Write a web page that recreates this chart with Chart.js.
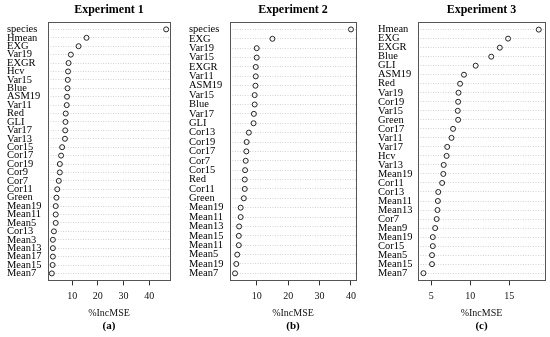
<!DOCTYPE html>
<html>
<head>
<meta charset="utf-8">
<script src="https://cdn.jsdelivr.net/npm/chart.js@4"></script>
<style>
  body { margin: 0; background: #fff; }
  .panel { position: absolute; top: 0; height: 337px; }
</style>
</head>
<body>
<div class="panel" style="left:0px;width:180px"><canvas id="chart1"></canvas></div>
<div class="panel" style="left:183px;width:180px"><canvas id="chart2"></canvas></div>
<div class="panel" style="left:366px;width:184px"><canvas id="chart3"></canvas></div>
<script>
// Experiment 1
const labels1 = ['species', 'Hmean', 'EXG', 'Var19', 'EXGR', 'Hcv', 'Var15', 'Blue', 'ASM19', 'Var11',
  'Red', 'GLI', 'Var17', 'Var13', 'Cor15', 'Cor17', 'Cor19', 'Cor9', 'Cor7', 'Cor11',
  'Green', 'Mean19', 'Mean11', 'Mean5', 'Cor13', 'Mean3', 'Mean13', 'Mean17', 'Mean15', 'Mean7'];
const values1 = [46.6, 15.6, 12.5, 9.5, 8.6, 8.4, 8.3, 8.2, 8.0, 7.9,
  7.5, 7.4, 7.3, 7.2, 6.1, 5.7, 5.2, 5.2, 4.8, 4.2,
  3.9, 3.6, 3.6, 3.6, 2.9, 2.5, 2.5, 2.5, 2.4, 2.1];
const ticks1 = [10, 20, 30, 40];

// Experiment 2
const labels2 = ['species', 'EXG', 'Var19', 'Var15', 'EXGR', 'Var11', 'ASM19', 'Var15', 'Blue', 'Var17',
  'GLI', 'Cor13', 'Cor19', 'Cor17', 'Cor7', 'Cor15', 'Red', 'Cor11', 'Green', 'Mean19',
  'Mean11', 'Mean13', 'Mean15', 'Mean11', 'Mean5', 'Mean19', 'Mean7'];
const values2 = [40.0, 15.0, 10.0, 10.0, 9.7, 9.7, 9.6, 9.35, 9.35, 9.1,
  9.0, 7.5, 6.8, 6.7, 6.5, 6.3, 6.2, 6.2, 5.9, 4.9,
  4.9, 4.4, 4.3, 4.3, 3.8, 3.5, 3.1];
const ticks2 = [10, 20, 30, 40];

// Experiment 3
const labels3 = ['Hmean', 'EXG', 'EXGR', 'Blue', 'GLI', 'ASM19', 'Red', 'Var19', 'Cor19', 'Var15',
  'Green', 'Cor17', 'Var11', 'Var17', 'Hcv', 'Var13', 'Mean19', 'Cor11', 'Cor13', 'Mean11',
  'Mean13', 'Cor7', 'Mean9', 'Mean19', 'Cor15', 'Mean5', 'Mean15', 'Mean7'];
const values3 = [18.8, 14.86, 13.8, 12.7, 10.7, 9.2, 8.7, 8.5, 8.45, 8.4,
  8.45, 7.8, 7.6, 7.05, 6.97, 6.6, 6.55, 6.4, 5.9, 5.85,
  5.8, 5.7, 5.5, 5.2, 5.2, 5.1, 5.1, 4.0];
const ticks3 = [5, 10, 15];

const serif = 'Liberation Serif';

// box round the plot area, like R's box()
const boxPlugin = {
  id: 'box',
  afterDraw(chart) {
    const a = chart.chartArea;
    const c = chart.ctx;
    c.save();
    c.strokeStyle = '#555';
    c.lineWidth = 1;
    c.strokeRect(Math.round(a.left) + 0.5, Math.round(a.top) + 0.5,
      Math.round(a.right - a.left), Math.round(a.bottom - a.top));
    c.restore();
  }
};

function makePanel(id, title, tag, labels, values, ticks, xmin, xmax, pad, padLeft, axisWidth, padRight) {
  const points = values.map((v, i) => ({ x: v, y: i }));
  new Chart(document.getElementById(id), {
    type: 'scatter',
    data: {
      datasets: [{
        data: points,
        pointStyle: 'circle',
        pointRadius: 2.5,
        pointBorderWidth: 1,
        pointBorderColor: '#222',
        pointBackgroundColor: 'rgba(0,0,0,0)'
      }]
    },
    options: {
      responsive: true,
      maintainAspectRatio: false,
      animation: false,
      layout: { padding: { left: padLeft, right: padRight, top: 0, bottom: 0 } },
      plugins: {
        legend: { display: false },
        tooltip: { enabled: false },
        title: {
          display: true, text: title, fullSize: false, color: '#000',
          font: { family: serif, size: 12, weight: 'bold' },
          padding: { top: 3, bottom: 5 }
        },
        subtitle: {
          display: true, text: tag, position: 'bottom', fullSize: false, color: '#000',
          font: { family: serif, size: 11, weight: 'bold' },
          padding: { top: 0, bottom: 4.4 }
        }
      },
      scales: {
        x: {
          type: 'linear', min: xmin, max: xmax,
          afterBuildTicks: s => { s.ticks = ticks.map(t => ({ value: t })); },
          grid: { drawOnChartArea: false, drawTicks: true, tickLength: 5, color: '#333' },
          border: { display: false },
          ticks: { color: '#111', padding: 5, autoSkip: false, font: { family: serif, size: 10 } },
          title: {
            display: true, text: '%IncMSE', color: '#111',
            font: { family: serif, size: 10 }, padding: { top: 0, bottom: 0 }
          }
        },
        y: {
          type: 'linear', reverse: true, min: -pad, max: labels.length - 1 + pad,
          afterBuildTicks: s => { s.ticks = labels.map((l, i) => ({ value: i })); },
          afterFit: s => { s.width = axisWidth; },
          grid: { drawTicks: false, color: '#d4d4d4', lineWidth: 1 },
          border: { display: false, dash: [1, 1.5] },
          ticks: {
            autoSkip: false, crossAlign: 'far', padding: 0, color: '#000',
            font: { family: serif, size: 10.5 },
            callback: v => labels[v]
          }
        }
      }
    },
    plugins: [boxPlugin]
  });
}

makePanel('chart1', 'Experiment 1', '(a)', labels1, values1, ticks1, 0.6, 48.1, 0.83, 7, 41, 10);
makePanel('chart2', 'Experiment 2', '(b)', labels2, values2, ticks2, 1.5, 41.6, 0.75, 6, 41, 7);
makePanel('chart3', 'Experiment 3', '(c)', labels3, values3, ticks3, 3.3, 19.6, 0.8, 12, 40, 5);
</script>
</body>
</html>
